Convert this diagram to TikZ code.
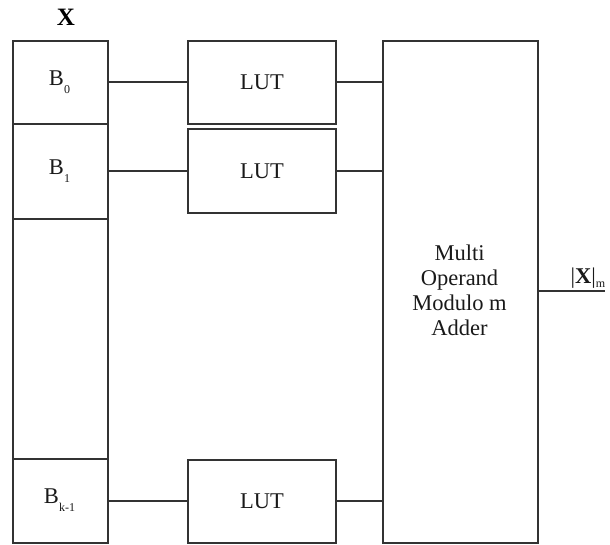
\documentclass[tikz,border=0pt]{standalone}
\usepackage{fontspec}
\setmainfont{Liberation Serif}
\begin{document}
\begin{tikzpicture}[x=1pt,y=-1pt,
  ln/.style={line width=1.8pt, draw=black!80},
  blk/.style={ln, rectangle, inner sep=0pt},
  cell/.style={rectangle, inner sep=0pt, outer sep=0pt},
  txt/.style={font=\fontsize{22.5}{25}\selectfont, text=black!90}]
\useasboundingbox (0,0) rectangle (610,544);
% left column
\node[blk, minimum width=95pt, minimum height=502pt, anchor=north west] (col) at (12,40) {};
\node[cell, minimum width=95pt, minimum height=84pt, anchor=north west] (b0) at (12,40) {};
\node[cell, minimum width=95pt, minimum height=95pt, anchor=north west] (b1) at (12,124) {};
\node[cell, minimum width=95pt, minimum height=83pt, anchor=north west] (bk) at (12,459) {};
\draw[ln, line width=2.2pt] (b0.south west) -- (b0.south east);
\draw[ln] (b1.south west) -- (b1.south east);
\draw[ln, line width=2.2pt] (bk.north west) -- (bk.north east);
\node[txt] at (b0.center) {B\raisebox{-8pt}{\fontsize{12}{12}\selectfont 0}};
\node[txt] at (b1.center) {B\raisebox{-8pt}{\fontsize{12}{12}\selectfont 1}};
\node[txt] at (bk.center) {B\raisebox{-8pt}{\fontsize{12}{12}\selectfont k-1}};
\node[font=\fontsize{25}{25}\selectfont\bfseries] (xl) at (66,17) {X};
% LUTs
\node[blk, minimum width=148pt, minimum height=83pt, anchor=north west, txt] (l0) at (187,40) {LUT};
\node[blk, minimum width=148pt, minimum height=84pt, anchor=north west, txt] (l1) at (187,128) {LUT};
\node[blk, minimum width=148pt, minimum height=83pt, anchor=north west, txt] (lk) at (187,459) {LUT};
% adder
\node[blk, minimum width=155pt, minimum height=502pt, anchor=north west] (ad) at (382,40) {};
\node[txt, align=center] at (459.5,290) {Multi\\Operand\\Modulo m\\Adder};
% connectors
\draw[ln] (b0.east |- 0,82) -- (l0.west |- 0,82);
\draw[ln] (b1.east |- 0,171) -- (l1.west |- 0,171);
\draw[ln] (bk.east |- 0,501) -- (lk.west |- 0,501);
\draw[ln] (l0.east |- 0,82) -- (ad.west |- 0,82);
\draw[ln] (l1.east |- 0,171) -- (ad.west |- 0,171);
\draw[ln] (lk.east |- 0,501) -- (ad.west |- 0,501);
\coordinate (out) at (605,291);
\draw[ln] (ad.east |- out) -- (out);
\node[txt, anchor=base] (xm) at (588,283) {|\textbf{X}|\raisebox{-4pt}{\fontsize{12}{12}\selectfont m}};
\end{tikzpicture}
\end{document}
